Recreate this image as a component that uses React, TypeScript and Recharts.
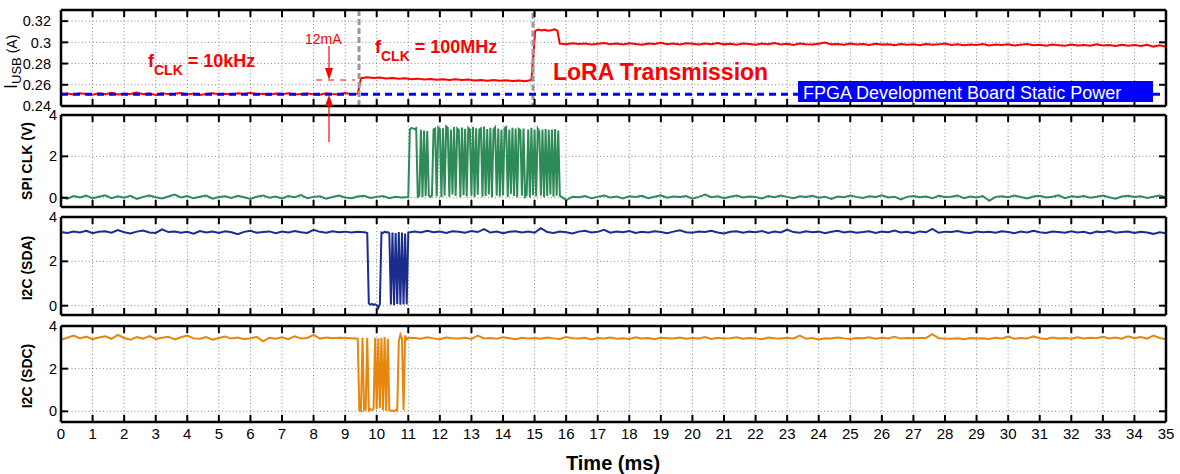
import React from "react";
import { LineChart, Line, XAxis, YAxis, CartesianGrid, ReferenceLine } from "recharts";

// [start ms, sample step ms, values]
type Seg = [number, number, number[]];

const timeTicks = [0, 1, 2, 3, 4, 5, 6, 7, 8, 9, 10, 11, 12, 13, 14, 15, 16, 17, 18, 19, 20, 21, 22, 23, 24, 25, 26, 27, 28, 29, 30, 31, 32, 33, 34, 35];
const usbTicks = [0.24, 0.26, 0.28, 0.3, 0.32];
const voltTicks = [0, 2, 4];

const staticPower = 0.251;

// I_USB (A)
const usb10k = [
  0.2512, 0.2518, 0.2509, 0.2521, 0.2514, 0.2506, 0.2519, 0.2511, 0.2524, 0.2508,
  0.2516, 0.2513, 0.2527, 0.251, 0.2517, 0.2505, 0.252, 0.2512, 0.2515, 0.2522,
  0.2509, 0.2518, 0.2503, 0.2514, 0.2521, 0.2511, 0.2516, 0.2508, 0.2519, 0.2513,
  0.2525, 0.251, 0.2515, 0.2507, 0.2518, 0.2512, 0.252, 0.2509, 0.2514, 0.2517,
  0.2511, 0.2506, 0.2519, 0.2513, 0.2509, 0.2522, 0.2512, 0.2516,
];
const usb100M = [
  0.2662, 0.2671, 0.2665, 0.2668, 0.2659, 0.2664, 0.2657, 0.2661, 0.2653, 0.2658,
  0.265, 0.2655, 0.2648, 0.2652, 0.2646, 0.2651, 0.2644, 0.2649, 0.2641, 0.2646,
  0.2639, 0.2644, 0.2637, 0.2642, 0.2635, 0.264, 0.2633, 0.2645,
];
const usbLoraPeak = [0.3108, 0.3121, 0.3112, 0.3118, 0.3109, 0.3115, 0.3123, 0.3111];
const usbLora = [
  0.2988, 0.2982, 0.2991, 0.2984, 0.299, 0.2979, 0.2987, 0.2993, 0.2983, 0.2989,
  0.2981, 0.2992, 0.2985, 0.2978, 0.299, 0.2984, 0.2996, 0.2982, 0.2988, 0.298,
  0.2991, 0.2986,
  0.2979, 0.2989, 0.2983, 0.2994, 0.2981, 0.2987, 0.2977, 0.299, 0.2984, 0.2978,
  0.2988, 0.2982, 0.2993, 0.298, 0.2986, 0.2976, 0.2989, 0.2983, 0.2979, 0.2987,
  0.2998, 0.2981, 0.2985, 0.2977,
  0.2988, 0.298, 0.2984, 0.2975, 0.2986, 0.2979, 0.2983, 0.2974, 0.2985, 0.2978,
  0.2982, 0.2973, 0.2984, 0.2977, 0.2981, 0.299, 0.2976, 0.2983, 0.2972, 0.298,
  0.2975, 0.2984, 0.2971, 0.2979,
  0.2974, 0.2982, 0.297, 0.2978, 0.2984, 0.2972, 0.2977, 0.2969, 0.298, 0.2973,
  0.2967, 0.2979, 0.2971, 0.2976, 0.2968, 0.2981, 0.297, 0.2975, 0.2966, 0.2978,
  0.2969, 0.2974, 0.2965, 0.2977, 0.296, 0.2972, 0.2958,
];

// SPI CLK (V)
const spiIdle = [
  0.02, -0.05, 0.08, 0.01, 0.1, -0.03, 0.05, 0.12, -0.02, 0.07,
  0.0, 0.09, -0.06, 0.04, 0.11, 0.02, -0.04, 0.06, 0.15, 0.01,
  0.08, -0.03, 0.05, 0.1, -0.05, 0.03, 0.07, -0.01, 0.09, 0.02,
  -0.06, 0.05, 0.11, 0.0, 0.06, -0.04, 0.08, 0.02, 0.13, -0.02,
  0.04, 0.07, -0.05, 0.03, 0.1, 0.01, -0.03, 0.06, 0.09, -0.01,
  0.04, 0.08, -0.02, 0.05, 0.01, 0.03,
];
const spiBurst = [
  3.3, 3.38, 3.35, 3.32, 3.36, 0.05, 0.1, 3.28, 0.02, 3.25,
  0.08, 3.22, 0.12, 0.04, 0.1, 3.3, 3.34, 0.06, 3.4, 3.32,
  0.02, 3.36, 0.1, 3.45, 3.38, 0.05, 3.3, 0.15, 3.42, 0.08,
  3.35, 3.28, 0.02, 3.4, 0.12, 3.33, 0.06, 3.38, 3.3, 0.1,
  3.42, 0.04, 3.36, 0.14, 3.3, 3.35, 0.05, 3.44, 0.08, 3.32,
  0.15, 3.38, 0.02, 3.3, 3.4, 0.1, 3.34, 0.06, 3.28, 0.12,
  3.36, 3.42, 0.04, 3.3, 0.18, 3.38, 0.08, 3.35, 0.02, 3.32,
  3.26, 0.1, 3.34, 0.05, 0.14, 3.3, 0.02, 3.38, 0.12, 3.28,
  0.06, 3.34, 3.2, 0.1, 3.3, 0.02, 3.32, 0.08, 3.28, 0.15,
  3.3, 0.05, 3.32, 0.1, 3.25,
];
const spiIdle2 = [
  0.1, -0.12, 0.05, 0.02, 0.08, -0.03, 0.04, 0.1, 0.01, 0.06,
  -0.04, 0.07, 0.03, 0.09, -0.02, 0.05, 0.12, 0.0, 0.06, 0.03,
  0.08, -0.05, 0.04, 0.15, 0.02, 0.07, -0.03, 0.05, 0.1, 0.01,
  0.06, 0.03, -0.04, 0.08, 0.02, 0.11, 0.04, -0.02, 0.07, 0.03,
  0.09, 0.0, 0.05, -0.06, 0.06, 0.02, 0.1, 0.04, -0.01, 0.07,
  0.03, 0.12, 0.01, 0.05, -0.08, 0.04, 0.08, 0.02, 0.06, -0.03,
  0.09, 0.03, 0.05, 0.11, -0.02, 0.06, 0.01, 0.08, -0.15, 0.04,
  0.07, 0.02, 0.1, 0.03, -0.04, 0.06, 0.09, 0.01, 0.05, 0.12,
  -0.02, 0.07, 0.03, 0.08, 0.0, 0.05, 0.11, 0.02, -0.05, 0.06,
  0.09, 0.03, 0.07, -0.01, 0.05, 0.1, 0.02,
];

// I2C (SDA)
const sdaIdle = [
  3.32, 3.28, 3.35, 3.3, 3.38, 3.27, 3.33, 3.36, 3.29, 3.41,
  3.31, 3.26, 3.34, 3.39, 3.3, 3.28, 3.44, 3.32, 3.35, 3.29,
  3.33, 3.25, 3.37, 3.3, 3.34, 3.28, 3.36, 3.31, 3.22, 3.33,
  3.38, 3.29, 3.32, 3.35, 3.27, 3.34, 3.3, 3.37, 3.31, 3.28,
  3.42, 3.33, 3.29, 3.36, 3.31, 3.34, 3.3, 3.33, 3.31,
];
const sdaBurst = [
  3.3, 3.28, 0.1, 0.05, 0.08, 0.04, 0.06, 0.02, -0.1, 0.08,
  3.3, 3.28, 3.34, 3.3, 3.32, 3.26, 0.05, 3.3, 0.02, 3.28,
  0.08, 3.32, 0.04, 3.3, 0.06, 3.25, 0.05, 3.3,
];
const sdaIdle2 = [
  3.34, 3.3, 3.38, 3.31, 3.35, 3.28, 3.36, 3.33, 3.29, 3.37,
  3.32, 3.45, 3.3, 3.34, 3.27, 3.33, 3.36, 3.3, 3.35, 3.29,
  3.5, 3.32, 3.28, 3.35, 3.31, 3.26, 3.34, 3.38, 3.3, 3.33,
  3.42, 3.29, 3.35, 3.31, 3.37, 3.28, 3.33, 3.3, 3.36, 3.32,
  3.27, 3.34, 3.4, 3.31, 3.29, 3.35, 3.32, 3.38, 3.3, 3.26,
  3.33, 3.36, 3.29, 3.34, 3.31, 3.37, 3.28, 3.35, 3.3, 3.43,
  3.32, 3.29, 3.36, 3.31, 3.34, 3.27, 3.33, 3.38, 3.3, 3.35,
  3.29, 3.32, 3.36, 3.28, 3.34, 3.31, 3.39, 3.3, 3.33, 3.27,
  3.35, 3.31, 3.46, 3.29, 3.34, 3.32, 3.37, 3.3, 3.28, 3.35,
  3.31, 3.33, 3.29, 3.36, 3.32, 3.27, 3.34, 3.3, 3.38, 3.31,
  3.28, 3.35, 3.32, 3.29, 3.36, 3.3, 3.33, 3.26, 3.34, 3.31,
  3.37, 3.29, 3.32, 3.35, 3.28, 3.33, 3.3, 3.24, 3.31, 3.27,
];

// I2C (SDC)
const sdcIdle = [
  3.35, 3.45, 3.55, 3.42, 3.5, 3.38, 3.46, 3.52, 3.4, 3.58,
  3.44, 3.36, 3.48, 3.41, 3.53, 3.39, 3.45, 3.5, 3.37, 3.47,
  3.55, 3.42, 3.4, 3.48, 3.36, 3.44, 3.51, 3.41, 3.46, 3.38,
  3.43, 3.49, 3.28, 3.45, 3.4, 3.47, 3.38, 3.52, 3.42, 3.44,
  3.58, 3.41, 3.46, 3.43, 3.45, 3.44, 3.43,
];
const sdcBurst = [
  3.42, 3.43, 3.41, 3.4, 0.05, 0.02, 3.45, 0.05, 0.08, 3.45,
  0.04, 0.1, 0.06, 0.12, 3.45, 0.1, 3.42, 0.15, 3.45, 0.05,
  3.48, 0.02, 3.4, 0.05, 0.02, 0.04, 0.0, 0.06, 0.03, 3.3,
  3.6, 3.4, 0.05, 3.55, 3.38, 3.45,
];
const sdcIdle2 = [
  3.44, 3.4, 3.47, 3.42, 3.38, 3.46, 3.43, 3.41, 3.45, 3.39,
  3.55, 3.42, 3.44, 3.4, 3.47, 3.43, 3.38, 3.45, 3.41, 3.44,
  3.4, 3.46, 3.42, 3.39, 3.48, 3.43, 3.41, 3.45, 3.37, 3.44,
  3.42, 3.46, 3.4, 3.43, 3.39, 3.47, 3.42, 3.44, 3.38, 3.45,
  3.43, 3.41, 3.46, 3.4, 3.44, 3.42, 3.48, 3.39, 3.45, 3.41,
  3.43, 3.47, 3.4, 3.44, 3.42, 3.38, 3.46, 3.43, 3.41, 3.45,
  3.42, 3.55, 3.4, 3.44, 3.37, 3.43, 3.41, 3.46, 3.42, 3.39,
  3.44, 3.43, 3.47, 3.4, 3.45, 3.42, 3.5, 3.41, 3.44, 3.43,
  3.44, 3.44, 3.62, 3.43, 3.41, 3.4, 3.42, 3.38, 3.44, 3.41,
  3.43, 3.39, 3.45, 3.42, 3.5, 3.4, 3.44, 3.41, 3.52, 3.43,
  3.39, 3.46, 3.42, 3.44, 3.4, 3.47, 3.41, 3.45, 3.43, 3.49,
  3.42, 3.46, 3.4, 3.52, 3.43, 3.48, 3.41, 3.55, 3.44, 3.38,
];

const usbSegs: Seg[] = [[0, 0.2, usb10k], [9.5, 0.2, usb100M], [15.02, 0.1, usbLoraPeak], [15.8, 0.2, usbLora]];
const spiSegs: Seg[] = [[0, 0.2, spiIdle], [11.05, 0.05, spiBurst], [15.8, 0.2, spiIdle2]];
const sdaSegs: Seg[] = [[0, 0.2, sdaIdle], [9.65, 0.05, sdaBurst], [11.2, 0.2, sdaIdle2]];
const sdcSegs: Seg[] = [[0, 0.2, sdcIdle], [9.25, 0.05, sdcBurst], [11.2, 0.2, sdcIdle2]];

function toRows(segs: Seg[]) {
  return segs.flatMap(([t0, dt, vals]) =>
    vals.map((v, i) => ({ t: Math.round((t0 + i * dt) * 1000) / 1000, v }))
  );
}

const W = 1180;
const PAD = 12;
const frame = { stroke: "#000", strokeWidth: 2.5 };
const tickStroke = { stroke: "#000", strokeWidth: 2 };
const RED = "#ff0000";

// tick lines only, no label
const noLabel = () => <g />;

type PanelProps = {
  rows: { t: number; v: number }[];
  color: string;
  top: number;
  plotH: number;
  domain: [number, number];
  ticks: number[];
  labelGap: number;
  showTime?: boolean;
  children?: React.ReactNode;
};

function Panel({ rows, color, top, plotH, domain, ticks, labelGap, showTime, children }: PanelProps) {
  const axisH = showTime ? 30 : 0;
  return (
    <div style={{ position: "absolute", left: 0, top: top - PAD }}>
      <LineChart
        width={W}
        height={plotH + 2 * PAD + axisH}
        data={rows}
        margin={{ top: PAD, right: 14, bottom: PAD, left: 0 }}
      >
        <CartesianGrid xAxisId="b" yAxisId="l" stroke="#8a8a8a" strokeDasharray="1 2.5" />
        <XAxis xAxisId="b" dataKey="t" type="number" domain={[0, 35]} ticks={timeTicks} interval={0}
          allowDataOverflow orientation="bottom" mirror tick={noLabel} tickSize={7}
          tickLine={tickStroke} axisLine={frame} />
        <XAxis xAxisId="t" dataKey="t" type="number" domain={[0, 35]} ticks={timeTicks} interval={0}
          allowDataOverflow orientation="top" mirror tick={noLabel} tickSize={7}
          tickLine={tickStroke} axisLine={frame} />
        {showTime && (
          <XAxis xAxisId="lab" dataKey="t" type="number" domain={[0, 35]} ticks={timeTicks} interval={0}
            allowDataOverflow orientation="bottom" height={30} tickSize={0} tickMargin={6}
            tickLine={false} axisLine={false} tick={{ fontSize: 15, fill: "#000" }} />
        )}
        <YAxis yAxisId="l" type="number" domain={domain} ticks={ticks} interval={0} allowDataOverflow
          width={61} tickSize={0} tickMargin={labelGap} tickLine={false} axisLine={frame}
          tick={{ fontSize: 14.5, fill: "#000" }} />
        <YAxis yAxisId="lm" type="number" domain={domain} ticks={ticks} interval={0} allowDataOverflow
          orientation="left" mirror tick={noLabel} tickSize={7} tickLine={tickStroke} axisLine={false} />
        <YAxis yAxisId="r" type="number" domain={domain} ticks={ticks} interval={0} allowDataOverflow
          orientation="right" mirror tick={noLabel} tickSize={7} tickLine={tickStroke} axisLine={frame} />
        <Line xAxisId="b" yAxisId="l" dataKey="v" stroke={color} strokeWidth={2} dot={false}
          isAnimationActive={false} />
        {children}
      </LineChart>
    </div>
  );
}

export default function App() {
  return (
    <div
      style={{
        position: "relative",
        width: W,
        height: 474,
        background: "#fff",
        fontFamily: "'Liberation Sans', Arial, Helvetica, sans-serif",
        overflow: "hidden",
      }}
    >
      <style>{"body{margin:0}"}</style>

      <Panel rows={toRows(usbSegs)} color={RED} top={10} plotH={96} domain={[0.24, 0.3305]} ticks={usbTicks} labelGap={10}>
        <ReferenceLine xAxisId="b" yAxisId="l" x={9.44} stroke="#999" strokeWidth={3} strokeDasharray="6 3" />
        <ReferenceLine xAxisId="b" yAxisId="l" segment={[{ x: 14.95, y: 0.328 }, { x: 14.95, y: 0.24 }]}
          stroke="#999" strokeWidth={3} strokeDasharray="6 3" />
        <ReferenceLine xAxisId="b" yAxisId="l" segment={[{ x: 8.08, y: 0.2645 }, { x: 9.31, y: 0.2645 }]}
          stroke={RED} strokeWidth={1} strokeDasharray="6 6" />
        <ReferenceLine xAxisId="b" yAxisId="l" y={staticPower} stroke="#0000ff" strokeWidth={3} strokeDasharray="7 5" />
      </Panel>
      <Panel rows={toRows(spiSegs)} color="#2e8b57" top={115} plotH={92} domain={[-0.45, 4]} ticks={voltTicks} labelGap={4} />
      <Panel rows={toRows(sdaSegs)} color="#1a2d8c" top={217} plotH={98} domain={[-0.42, 4]} ticks={voltTicks} labelGap={4} />
      <Panel rows={toRows(sdcSegs)} color="#e8850c" top={326} plotH={96} domain={[-0.5, 4]} ticks={voltTicks} labelGap={4} showTime />

      <svg width={W} height={474} style={{ position: "absolute", left: 0, top: 0, pointerEvents: "none" }}>
        {/* axis titles */}
        <text transform="rotate(-90)" x={-89} y={17} fill="#000" fontSize={18}>
          I<tspan fontSize={13} dy={4}>USB</tspan>
          <tspan fontSize={14} dy={-4}> (A)</tspan>
        </text>
        <text transform="rotate(-90)" x={-161} y={32} textAnchor="middle" fontSize={14} fontWeight="bold" fill="#000">SPI CLK (V)</text>
        <text transform="rotate(-90)" x={-268} y={32} textAnchor="middle" fontSize={14} fontWeight="bold" fill="#000">I2C (SDA)</text>
        <text transform="rotate(-90)" x={-376} y={32} textAnchor="middle" fontSize={14} fontWeight="bold" fill="#000">I2C (SDC)</text>
        <text x={613} y={470} textAnchor="middle" fontSize={20} fontWeight="bold" fill="#000">Time (ms)</text>

        {/* annotations */}
        <text x={148} y={67} fill={RED} fontWeight="bold" fontSize={18}>
          f<tspan fontSize={14} dy={8}>CLK</tspan>
          <tspan dy={-8}> = 10kHz</tspan>
        </text>
        <text x={375} y={53} fill={RED} fontWeight="bold" fontSize={18}>
          f<tspan fontSize={14} dy={8}>CLK</tspan>
          <tspan dy={-8}> = 100MHz</tspan>
        </text>
        <text x={553} y={80} fill={RED} fontWeight="bold" fontSize={23}>LoRA Transmission</text>
        <text x={305} y={44} fill={RED} fontSize={14}>12mA</text>
        <line x1={329} y1={46} x2={329} y2={69} stroke={RED} strokeWidth={1.2} />
        <polygon points="325,68 333,68 329,80" fill={RED} />
        <line x1={329} y1={142} x2={329} y2={105} stroke={RED} strokeWidth={1.2} />
        <polygon points="325,106 333,106 329,95" fill={RED} />

        <rect x={798} y={81} width={355} height={21} fill="#0000ff" />
        <text x={803} y={99} fill="#fff" fontSize={18}>FPGA Development Board Static Power</text>
      </svg>
    </div>
  );
}
